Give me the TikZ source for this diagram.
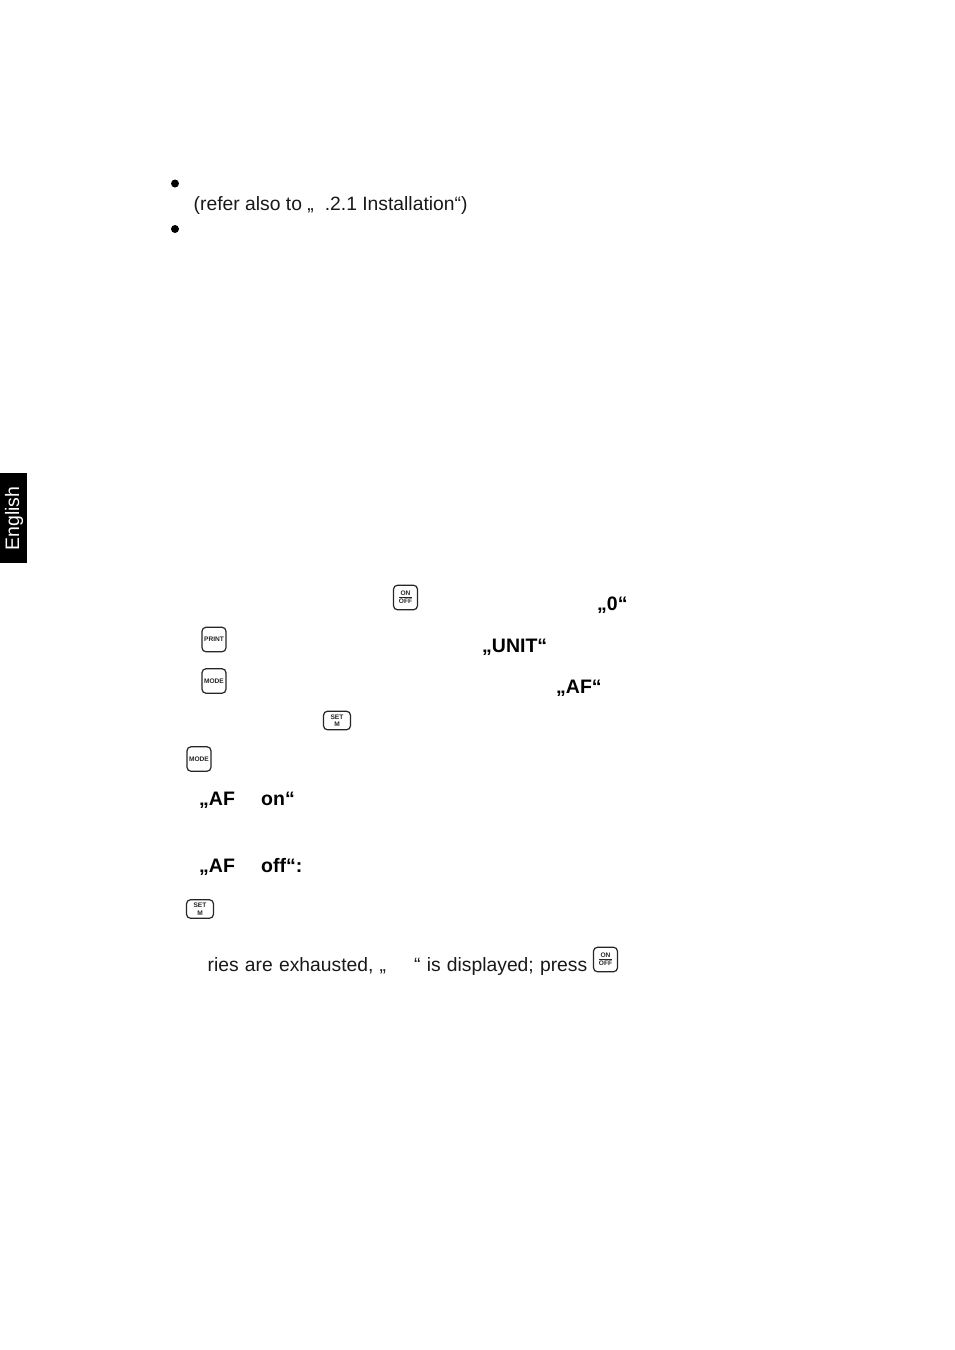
\documentclass[tikz,border=0pt]{standalone}
\usepackage{fontspec}
\setmainfont{Liberation Sans}
\tikzset{
  x=1pt,y=-1pt,
  txt/.style={anchor=base west,inner sep=0pt,font=\fontsize{19.3}{24}\selectfont,text=black!90},
  wide/.style={txt,execute at begin node={\spaceskip=6.2pt}},
  bld/.style={anchor=base west,inner sep=0pt,font=\fontsize{19.5}{24}\selectfont\bfseries,text=black},
  dot/.style={circle,fill=black,inner sep=0pt,minimum size=8pt},
  keybox/.style={draw=black!85,line width=1.2pt,rounded corners=4pt,inner sep=0pt,align=center,text=black!85,font=\fontsize{6.6}{7.6}\selectfont\bfseries},
  keytall/.style={keybox,minimum width=24pt,minimum height=24.5pt},
  keywide/.style={keybox,minimum width=27pt,minimum height=18.5pt},
  tab/.style={fill=black,inner sep=0pt,minimum width=27pt,minimum height=90pt},
  tablabel/.style={rotate=90,inner sep=0pt,text=white,font=\fontsize{19.5}{24}\selectfont}
}
\newcommand{\onoff}{\underline{\,ON\,}\\[0.6pt]OFF}
\begin{document}
\begin{tikzpicture}
\useasboundingbox (0,0) rectangle (954,1350);
\fill[white] (0,0) rectangle (954,1350);
\node[tab] (tabbox) at (13.5,518) {};
\node[tablabel] (tabtext) at (14,518.5) {English};
\node[dot] (b1) at (175,183.5) {};
\node[dot] (b2) at (175,229) {};
\node[txt] (refer) at (193.5,210) {(refer also to „\hspace{11pt}.2.1 Installation“)};
\node[keytall] (on1) at (405.5,597.5) {\onoff};
\node[bld] (zero) at (597,610) {„0“};
\node[keytall] (print1) at (214,639.5) {PRINT};
\node[bld] (unit) at (482,652) {„UNIT“};
\node[keytall] (mode1) at (214,681) {MODE};
\node[bld] (af) at (556,693) {„AF“};
\node[keywide] (set1) at (337,720.5) {SET\\M};
\node[keytall] (mode2) at (199,759) {MODE};
\node[bld] (afon) at (199,805) {„AF};
\node[bld] (on) at (261,805) {on“};
\node[bld] (afoff) at (199,872) {„AF};
\node[bld] (off) at (261,872) {off“:};
\node[keywide] (set2) at (200,909) {SET\\M};
\node[wide] (ries) at (207.5,971) {ries are exhausted, „};
\node[wide] (disp) at (414,971) {“ is displayed; press};
\node[keytall] (on2) at (605.5,959.5) {\onoff};
\end{tikzpicture}
\end{document}
